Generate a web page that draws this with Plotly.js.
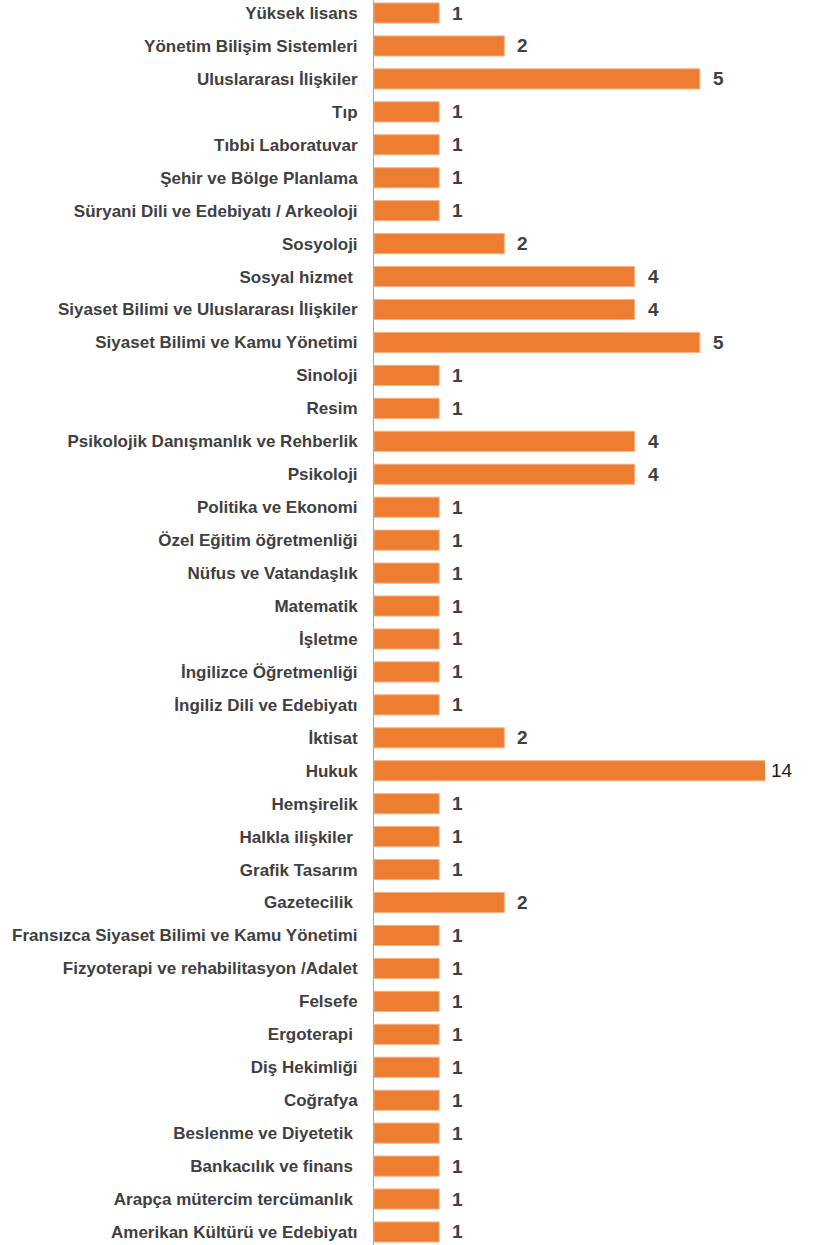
<!DOCTYPE html>
<html>
<head>
<meta charset="utf-8">
<script src="https://cdn.plot.ly/plotly-3.0.1.min.js"></script>
<style>html,body{margin:0;padding:0;background:#fff;}#chart{width:817px;height:1245px;}</style>
</head>
<body>
<div id="chart"></div>
<script>
var categories = [
  "Yüksek lisans",
  "Yönetim Bilişim Sistemleri",
  "Uluslararası İlişkiler",
  "Tıp",
  "Tıbbi Laboratuvar",
  "Şehir ve Bölge Planlama",
  "Süryani Dili ve Edebiyatı / Arkeoloji",
  "Sosyoloji",
  "Sosyal hizmet ",
  "Siyaset Bilimi ve Uluslararası İlişkiler",
  "Siyaset Bilimi ve Kamu Yönetimi",
  "Sinoloji",
  "Resim",
  "Psikolojik Danışmanlık ve Rehberlik",
  "Psikoloji",
  "Politika ve Ekonomi",
  "Özel Eğitim öğretmenliği",
  "Nüfus ve Vatandaşlık",
  "Matematik",
  "İşletme",
  "İngilizce Öğretmenliği",
  "İngiliz Dili ve Edebiyatı",
  "İktisat",
  "Hukuk",
  "Hemşirelik",
  "Halkla ilişkiler ",
  "Grafik Tasarım",
  "Gazetecilik ",
  "Fransızca Siyaset Bilimi ve Kamu Yönetimi",
  "Fizyoterapi ve rehabilitasyon /Adalet",
  "Felsefe",
  "Ergoterapi ",
  "Diş Hekimliği",
  "Coğrafya",
  "Beslenme ve Diyetetik ",
  "Bankacılık ve finans ",
  "Arapça mütercim tercümanlık ",
  "Amerikan Kültürü ve Edebiyatı"
];
var values = [1,2,5,1,1,1,1,2,4,4,5,1,1,4,4,1,1,1,1,1,1,1,2,14,1,1,1,2,1,1,1,1,1,1,1,1,1,1];
var xMax = 6;

var font = "'Liberation Sans Narrow', 'Arial Narrow', 'Liberation Sans', Arial, sans-serif";

var bars = {
  type: 'bar',
  orientation: 'h',
  y: categories,
  x: values,
  marker: {color: '#ED7D31', line: {color: '#F4B183', width: 1}},
  hoverinfo: 'x+y',
  textposition: 'none'
};

var annotations = values.map(function(v, i){
  var over = v > xMax;
  return {
    x: Math.min(v, xMax),
    y: categories[i],
    xref: 'x', yref: 'y',
    text: over ? String(v) : '<b>' + v + '</b>',
    showarrow: false,
    xanchor: 'left',
    yanchor: 'middle',
    xshift: over ? 4 : 11,
    font: {family: font, size: 19, color: over ? '#1a1a1a' : '#404040'}
  };
});

var layout = {
  width: 817,
  height: 1245,
  margin: {l: 374, r: 52, t: 0, b: 0, pad: 0},
  paper_bgcolor: '#fff',
  plot_bgcolor: '#fff',
  showlegend: false,
  bargap: 0.39,
  xaxis: {
    range: [0, xMax],
    visible: false,
    showgrid: false,
    zeroline: false
  },
  yaxis: {
    type: 'category',
    range: [37.395, -0.395],
    showgrid: false,
    zeroline: false,
    showline: true,
    linecolor: '#A6A6A6',
    linewidth: 1,
    ticks: '',
    ticklabelstandoff: 12,
    tickfont: {family: font, size: 17, color: '#404040', weight: 'bold'},
    automargin: false
  },
  annotations: annotations
};

Plotly.newPlot('chart', [bars], layout, {displayModeBar: false, staticPlot: true});
</script>
</body>
</html>
